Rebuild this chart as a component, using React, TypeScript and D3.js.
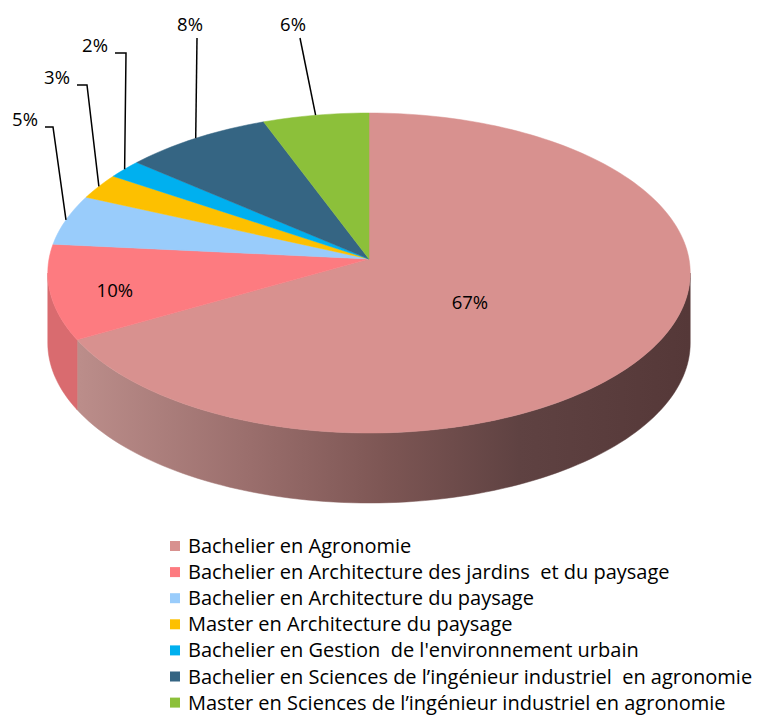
import { useMemo } from 'react';
import * as d3 from 'd3';

// Chart data (shares; labels as printed)
const categories = [
  'Bachelier en Agronomie',
  'Bachelier en Architecture des jardins  et du paysage',
  'Bachelier en Architecture du paysage',
  'Master en Architecture du paysage',
  "Bachelier en Gestion  de l'environnement urbain",
  'Bachelier en Sciences de l\u2019ingénieur industriel  en agronomie',
  'Master en Sciences de l\u2019ingénieur industriel en agronomie',
];
const values = [66.9, 9.6, 5.1, 2.6, 1.9, 8.1, 5.8];
const labels = ['67%', '10%', '5%', '3%', '2%', '8%', '6%'];
const topColors = ['#d8918f', '#fd7b80', '#99ccfb', '#fdc000', '#00b0ef', '#356583', '#8cc03a'];
const sideColors = ['url(#pinkSide)', '#d96b6f', '#7aa3c9', '#caa000', '#008cc0', '#2a5068', '#709a2e'];

// Layout
const W = 768;
const H = 718;
const cx = 369;
const R = 320;
const yBack = 113;
const yCentre = 259;
const yFront = 433;
const depth = 70;

// perspective factors so that back -> yBack, centre -> yCentre, front -> yFront
const c = (yFront - yCentre - (yCentre - yBack)) / (yFront - yBack);
const a = yBack * (c + 1) - yCentre;

// project point of the unit disc (u right, v back) to screen
const proj = (u: number, v: number, dy = 0) => {
  const w = c * v + 1;
  return [cx + (R * u) / w, (a * v + yCentre) / w + dy] as [number, number];
};
const rimPt = (t: number, dy = 0) => proj(Math.sin(t), Math.cos(t), dy);

// inside labels: radius fraction and vertical nudge; others outside
const inside: Record<number, { k: number; dy: number }> = {
  0: { k: 0.36, dy: 14 },
  1: { k: 0.8, dy: 5 },
};
const outside: Record<number, { x: number; y: number; elbow: number }> = {
  2: { x: 25, y: 120, elbow: 8 },
  3: { x: 57, y: 78, elbow: 10 },
  4: { x: 95, y: 46, elbow: 11 },
  5: { x: 190, y: 25, elbow: 0 },
  6: { x: 293, y: 25, elbow: 0 },
};

const line = d3.line();

const sample = (t0: number, t1: number, dy = 0) => {
  const n = Math.max(2, Math.ceil(((t1 - t0) / Math.PI) * 120));
  return d3.range(n + 1).map((i) => rimPt(t0 + ((t1 - t0) * i) / n, dy));
};

export default function App() {
  const arcs = useMemo(() => d3.pie<number>().sort(null).startAngle(0).endAngle(2 * Math.PI)(values), []);

  const centre = proj(0, 0);
  // the silhouette's left/right extremes are where cos t = -c
  const frontStart = Math.acos(-c);
  const frontEnd = 2 * Math.PI - frontStart;

  const topPath = (t0: number, t1: number) => line([centre, ...sample(t0, t1)]) + 'Z';

  const sidePath = (t0: number, t1: number) => {
    const s = Math.max(t0, frontStart);
    const e = Math.min(t1, frontEnd);
    if (e <= s) return null;
    return line([...sample(s, e), ...sample(s, e, depth).reverse()]) + 'Z';
  };

  const fontFamily = "'Open Sans', 'Noto Sans', sans-serif";

  return (
    <svg width={W} height={H} style={{ position: 'absolute', left: 0, top: 0, background: '#fff' }}>
      <defs>
        <linearGradient id="pinkSide" gradientUnits="userSpaceOnUse" x1={80} y1={0} x2={690} y2={0}>
          <stop offset="0" stopColor="#bb8d8a" />
          <stop offset="0.28" stopColor="#9a6e6c" />
          <stop offset="0.5" stopColor="#7d5654" />
          <stop offset="0.72" stopColor="#5f4242" />
          <stop offset="1" stopColor="#553838" />
        </linearGradient>
      </defs>

      {/* side walls */}
      <g>
        {arcs.map((d, i) => {
          const p = sidePath(d.startAngle, d.endAngle);
          return p ? <path key={i} d={p} fill={sideColors[i]} stroke={sideColors[i]} strokeWidth={0.5} /> : null;
        })}
      </g>

      {/* top faces */}
      <g>
        {arcs.map((d, i) => (
          <path key={i} d={topPath(d.startAngle, d.endAngle)} fill={topColors[i]} stroke={topColors[i]} strokeWidth={0.5} />
        ))}
      </g>

      {/* labels */}
      <g fontFamily={fontFamily} fontSize={18.5} fill="#000">
        {arcs.map((d, i) => {
          const mid = (d.startAngle + d.endAngle) / 2;
          const ins = inside[i];
          if (ins) {
            const [x, y] = proj(ins.k * Math.sin(mid), ins.k * Math.cos(mid), ins.dy);
            return (
              <text key={i} x={x} y={y} textAnchor="middle" dy="0.35em">
                {labels[i]}
              </text>
            );
          }
          const o = outside[i];
          const edge = rimPt(mid);
          const pts: [number, number][] = o.elbow
            ? [[o.x + 20, o.y + 7], [o.x + 20 + o.elbow, o.y + 7], edge]
            : [[o.x + 7, o.y + 13], edge];
          return (
            <g key={i}>
              <path d={line(pts) ?? ''} fill="none" stroke="#000" strokeWidth={1.5} />
              <text x={o.x} y={o.y} textAnchor="middle" dy="0.35em">
                {labels[i]}
              </text>
            </g>
          );
        })}
      </g>

      {/* legend */}
      <g fontFamily={fontFamily} fontSize={20} fill="#000">
        {categories.map((cat, i) => {
          const y = 546 + i * 26.1;
          return (
            <g key={i}>
              <rect x={170} y={y - 5} width={10} height={10} fill={topColors[i]} />
              <text x={188} y={y} dy="0.35em" style={{ whiteSpace: 'pre' }}>
                {cat}
              </text>
            </g>
          );
        })}
      </g>
    </svg>
  );
}
